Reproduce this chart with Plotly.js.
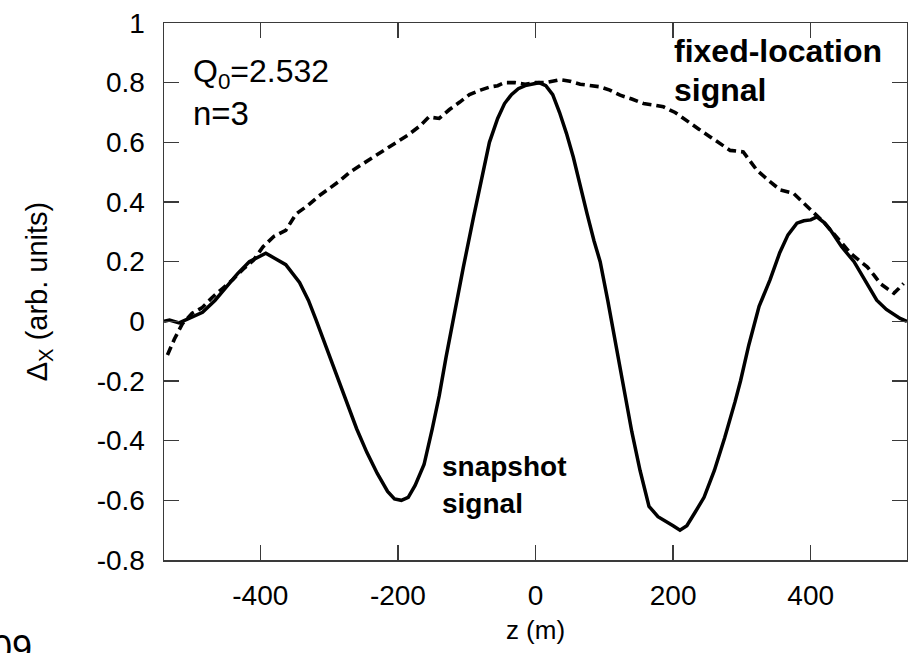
<!DOCTYPE html>
<html>
<head>
<meta charset="utf-8">
<script src="https://cdn.plot.ly/plotly-3.0.1.min.js"></script>
<style>html,body{margin:0;padding:0;background:#fff;}#chart{width:908px;height:653px;}</style>
</head>
<body>
<div id="chart"></div>
<script>
// Snapshot signal (solid)
const snapZ = [-540,-532,-518,-499,-484,-466,-450,-433,-416,-400,-392,-378,-363,-343,-330,-319,-305,-290,-275,-260,-245,-230,-215,-205,-195,-185,-175,-162,-150,-140,-130,-118,-105,-90,-78,-67,-55,-45,-35,-25,-15,-5,5,15,25,35,45,55,65,75,85,94,105,113,127,140,152,165,178,190,200,210,220,232,245,260,275,290,298,310,325,341,355,367,375,380,390,400,409,420,429,445,463,480,496,510,521,530,540];
const snapV = [0.0,0.004,-0.005,0.014,0.03,0.07,0.115,0.16,0.2,0.22,0.228,0.21,0.19,0.13,0.07,0.005,-0.08,-0.175,-0.27,-0.36,-0.44,-0.51,-0.57,-0.595,-0.6,-0.59,-0.55,-0.48,-0.36,-0.25,-0.12,0.03,0.18,0.35,0.48,0.6,0.68,0.73,0.76,0.78,0.79,0.795,0.8,0.79,0.76,0.7,0.63,0.55,0.45,0.36,0.27,0.2,0.07,-0.03,-0.2,-0.37,-0.5,-0.62,-0.655,-0.67,-0.685,-0.7,-0.685,-0.64,-0.59,-0.5,-0.39,-0.27,-0.2,-0.08,0.05,0.14,0.23,0.29,0.315,0.329,0.337,0.34,0.35,0.33,0.305,0.25,0.2,0.135,0.071,0.04,0.025,0.01,0.0];

// Fixed-location signal (dashed)
const fixedZ = [-535,-525,-513,-499,-485,-470,-455,-440,-425,-410,-396,-380,-363,-348,-330,-315,-300,-285,-270,-256,-240,-225,-212,-200,-185,-168,-155,-140,-125,-110,-96,-80,-67,-55,-45,-30,-15,0,15,35,50,65,80,94,108,123,140,157,172,186,203,220,237,254,270,283,302,312,322,340,356,375,395,409,420,433,446,458,470,482,492,501,511,521,528,535];
const fixedV = [-0.113,-0.06,-0.007,0.027,0.045,0.08,0.11,0.14,0.175,0.205,0.25,0.285,0.305,0.36,0.39,0.42,0.445,0.47,0.5,0.52,0.545,0.565,0.585,0.6,0.625,0.655,0.685,0.68,0.71,0.735,0.76,0.775,0.785,0.79,0.8,0.8,0.795,0.8,0.8,0.81,0.805,0.795,0.79,0.786,0.775,0.758,0.745,0.73,0.725,0.719,0.7,0.674,0.645,0.618,0.595,0.573,0.568,0.535,0.506,0.47,0.44,0.429,0.384,0.356,0.33,0.295,0.26,0.228,0.205,0.183,0.155,0.127,0.11,0.094,0.11,0.127];

const xTickVals = [-400,-200,0,200,400];
const xTickText = ['-400','-200','0','200','400'];
const yTickVals = [-0.8,-0.6,-0.4,-0.2,0,0.2,0.4,0.6,0.8,1];
const yTickText = ['-0.8','-0.6','-0.4','-0.2','0','0.2','0.4','0.6','0.8','1'];

const FONT = 'Liberation Sans, Arial, Helvetica, sans-serif';
const AX = '#3a3a3a';

const traces = [
  {x: snapZ, y: snapV, mode: 'lines', line: {color: '#000', width: 3.5}, name: 'snapshot', showlegend: false},
  {x: fixedZ, y: fixedV, mode: 'lines', line: {color: '#000', width: 3.6, dash: '9px,5px'}, name: 'fixed', showlegend: false}
];

const layout = {
  width: 908, height: 653,
  margin: {l: 164, r: 1, t: 23, b: 93, pad: 0},
  paper_bgcolor: '#fff', plot_bgcolor: '#fff',
  font: {family: FONT, color: '#000'},
  showlegend: false,
  xaxis: {
    range: [-540, 540], tickvals: xTickVals, ticktext: xTickText,
    ticks: 'inside', ticklen: 15, tickwidth: 1.5, tickcolor: AX,
    showline: true, linecolor: AX, linewidth: 1.5, mirror: 'ticks',
    showgrid: false, zeroline: false,
    tickfont: {family: FONT, size: 28, color: '#000'},
    ticklabelstandoff: 10,
    title: {text: 'z (m)', font: {family: FONT, size: 26, color: '#000'}, standoff: 10},
    automargin: false
  },
  yaxis: {
    range: [-0.8, 1], tickvals: yTickVals, ticktext: yTickText,
    ticks: 'inside', ticklen: 15, tickwidth: 1.5, tickcolor: AX,
    showline: true, linecolor: AX, linewidth: 1.5, mirror: 'ticks',
    showgrid: false, zeroline: false,
    tickfont: {family: FONT, size: 28, color: '#000'},
    ticklabelstandoff: 12,
    title: {text: 'Δ<sub>X</sub> (arb. units)', font: {family: FONT, size: 29, color: '#000'}, standoff: 40},
    automargin: false
  },
  annotations: [
    {x: -500.6, y: 0.832, xref: 'x', yref: 'y', xanchor: 'left', yanchor: 'middle', showarrow: false,
     text: 'Q<sub>0</sub>=2.532', font: {family: FONT, size: 32, color: '#000'}},
    {x: -500.6, y: 0.697, xref: 'x', yref: 'y', xanchor: 'left', yanchor: 'middle', showarrow: false,
     text: 'n=3', font: {family: FONT, size: 33, color: '#000'}},
    {x: 198, y: 0.905, xref: 'x', yref: 'y', xanchor: 'left', yanchor: 'middle', showarrow: false,
     text: '<b>fixed-location</b>', font: {family: FONT, size: 32, color: '#000'}},
    {x: 198, y: 0.776, xref: 'x', yref: 'y', xanchor: 'left', yanchor: 'middle', showarrow: false,
     text: '<b>signal</b>', font: {family: FONT, size: 32, color: '#000'}},
    {x: -139, y: -0.485, xref: 'x', yref: 'y', xanchor: 'left', yanchor: 'middle', showarrow: false,
     text: '<b>snapshot</b>', font: {family: FONT, size: 28, color: '#000'}},
    {x: -139, y: -0.61, xref: 'x', yref: 'y', xanchor: 'left', yanchor: 'middle', showarrow: false,
     text: '<b>signal</b>', font: {family: FONT, size: 28, color: '#000'}},
    {x: -0.175, y: -0.1228, xref: 'paper', yref: 'paper', xanchor: 'right', yanchor: 'top', showarrow: false,
     text: '09', font: {family: FONT, size: 36, color: '#000'}}
  ]
};

Plotly.newPlot('chart', traces, layout, {displayModeBar: false, staticPlot: true});
</script>
</body>
</html>
